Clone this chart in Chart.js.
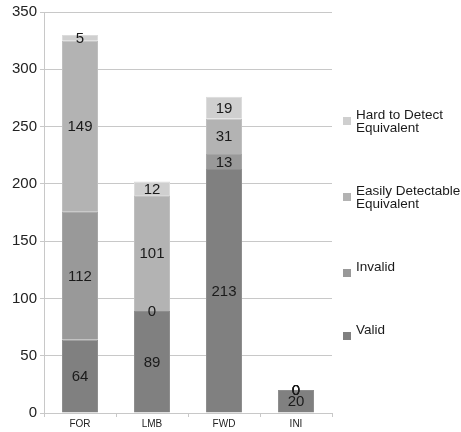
<!DOCTYPE html>
<html>
<head>
<meta charset="utf-8">
<script src="https://cdn.jsdelivr.net/npm/chart.js@4.4.1/dist/chart.umd.min.js"></script>
<style>
html,body{margin:0;padding:0;background:#fff;}
#wrap{position:relative;width:461px;height:432px;}
</style>
</head>
<body>
<div id="wrap"><canvas id="c" width="461" height="432"></canvas></div>
<script>
const categories = ['FOR', 'LMB', 'FWD', 'INI'];
const valid = [64, 89, 213, 20];
const invalid = [112, 0, 13, 0];
const easilyEquivalent = [149, 101, 31, 0];
const hardEquivalent = [5, 12, 19, 0];
const yTicks = [0, 50, 100, 150, 200, 250, 300, 350];

const seriesLabels = [['Valid'], ['Invalid'], ['Easily Detectable', 'Equivalent'], ['Hard to Detect', 'Equivalent']];
const seriesColors = ['#808080', '#999999', '#b3b3b3', '#cfcfcf'];
const seriesBorders = ['#8e8e8e', '#a6a6a6', '#bfbfbf', '#dcdcdc'];
const seriesData = [valid, invalid, easilyEquivalent, hardEquivalent];

const datasets = seriesData.map((d, i) => ({
  label: seriesLabels[i].join(' '),
  lines: seriesLabels[i],
  data: d,
  backgroundColor: seriesColors[i],
  borderColor: seriesBorders[i],
  borderWidth: 1,
  barPercentage: 0.5,
  categoryPercentage: 1.0
}));

const valueLabels = {
  id: 'valueLabels',
  afterDatasetsDraw(chart) {
    const ctx = chart.ctx;
    ctx.save();
    ctx.font = '15px "Liberation Sans", Arial, sans-serif';
    ctx.fillStyle = '#1a1a1a';
    ctx.textAlign = 'center';
    ctx.textBaseline = 'middle';
    chart.data.datasets.forEach((ds, di) => {
      const meta = chart.getDatasetMeta(di);
      meta.data.forEach((bar, i) => {
        const v = ds.data[i];
        const y = (bar.y + bar.base) / 2;
        ctx.fillText(String(v), bar.x, y + 1);
      });
    });
    ctx.restore();
  }
};

const sideLegend = {
  id: 'sideLegend',
  afterDraw(chart) {
    const ctx = chart.ctx;
    const ca = chart.chartArea;
    const x0 = ca.right + 11;
    // item tops (square) relative positions, drawn in reverse order (top = last dataset)
    const squareTops = [117, 193, 269, 332];
    ctx.save();
    ctx.font = '13.5px "Liberation Sans", Arial, sans-serif';
    ctx.textBaseline = 'alphabetic';
    ctx.textAlign = 'left';
    const ds = chart.data.datasets.slice().reverse();
    ds.forEach((d, k) => {
      const sy = squareTops[k];
      ctx.fillStyle = d.backgroundColor;
      ctx.fillRect(x0, sy, 8, 8);
      ctx.fillStyle = '#1a1a1a';
      const lines = d.lines;
      const firstBase = sy + 2;
      lines.forEach((ln, j) => {
        ctx.fillText(ln, x0 + 13, firstBase + j * 12.5);
      });
    });
    ctx.restore();
  }
};

new Chart(document.getElementById('c'), {
  type: 'bar',
  data: { labels: categories, datasets },
  options: {
    responsive: false,
    animation: false,
    layout: { padding: { top: 12, right: 129, left: 0, bottom: 0 } },
    plugins: { legend: { display: false }, tooltip: { enabled: false } },
    scales: {
      x: {
        stacked: true,
        grid: { offset: true, drawOnChartArea: false, color: '#c8c8c8', tickLength: 4 },
        border: { color: '#c8c8c8' },
        ticks: { color: '#222', font: { size: 10, family: '"Liberation Sans", Arial, sans-serif' }, padding: 1 },
        afterFit(s) { s.height = 19; }
      },
      y: {
        stacked: true,
        min: 0, max: 350,
        afterBuildTicks(s) { s.ticks = yTicks.map(v => ({ value: v })); },
        grid: { color: '#c8c8c8', tickLength: 4 },
        border: { color: '#c8c8c8' },
        ticks: { color: '#222', font: { size: 15, family: '"Liberation Sans", Arial, sans-serif' }, padding: 3 },
        afterFit(s) { s.width = 44; }
      }
    }
  },
  plugins: [valueLabels, sideLegend]
});
</script>
</body>
</html>
